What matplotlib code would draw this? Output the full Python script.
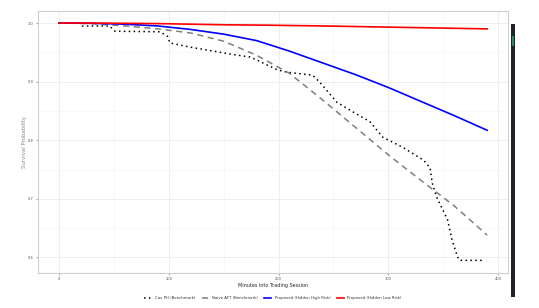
import matplotlib
matplotlib.use("Agg")
import matplotlib.pyplot as plt
from matplotlib.patches import Rectangle

# Cox PH (Benchmark) step-like Kaplan-style curve
cox_t = [0, 19, 21, 46, 51, 92, 99, 101, 119, 156, 174, 180, 190, 199, 208, 231,
         238, 253, 268, 283, 295, 313, 332, 338, 340, 344, 354, 358, 363, 365, 388]
cox_s = [1.0, 1.0, 0.995, 0.995, 0.986, 0.985, 0.977, 0.966, 0.959, 0.947, 0.942,
         0.937, 0.928, 0.920, 0.916, 0.911, 0.898, 0.865, 0.848, 0.832, 0.805,
         0.788, 0.766, 0.753, 0.727, 0.703, 0.664, 0.630, 0.601, 0.595, 0.595]

minutes = [0, 30, 60, 90, 120, 150, 180, 210, 240, 270, 300, 330, 360, 390]
aft_s = [1.0, 0.999, 0.995, 0.990, 0.983, 0.969, 0.945, 0.914, 0.869, 0.822,
         0.775, 0.731, 0.688, 0.638]
high_s = [1.0, 0.9995, 0.998, 0.995, 0.989, 0.981, 0.970, 0.952, 0.932, 0.912,
          0.890, 0.866, 0.842, 0.817]
low_s = [1.0, 0.9999, 0.9995, 0.999, 0.998, 0.997, 0.9965, 0.9958, 0.995,
         0.994, 0.993, 0.992, 0.991, 0.990]

labels = ["Cox PH (Benchmark)", "Naive AFT (Benchmark)",
          "Proposed (Hidden High Risk)", "Proposed (Hidden Low Risk)"]
x_ticks = [0, 100, 200, 300, 400]
y_ticks = [0.6, 0.7, 0.8, 0.9, 1.0]

fig = plt.figure(figsize=(5.39, 3.08), dpi=100)
ax = fig.add_axes([38/539, 35/308, 470/539, 262/308])

ax.plot(cox_t, cox_s, color="black", linestyle=(0, (1, 2.2)), linewidth=1.1, label=labels[0])
ax.plot(minutes, aft_s, color="#7f7f7f", linestyle=(0, (4, 3)), linewidth=1.1, label=labels[1])
ax.plot(minutes, high_s, color="#0000ff", linewidth=1.2, label=labels[2])
ax.plot(minutes, low_s, color="#ff0000", linewidth=1.2, label=labels[3])

ax.set_xlim(-19.1, 409)
ax.set_ylim(0.5734, 1.0205)
ax.set_xticks(x_ticks)
ax.set_xticklabels([str(v) for v in x_ticks])
ax.set_yticks(y_ticks)
ax.set_yticklabels([f"{v:.1f}" for v in y_ticks])
ax.set_xticks([50, 150, 250, 350], minor=True)
ax.set_yticks([0.65, 0.75, 0.85, 0.95], minor=True)
ax.grid(True, which="major", color="#ebebeb", linewidth=0.6)
ax.grid(True, which="minor", color="#f4f4f4", linewidth=0.4)
ax.set_axisbelow(True)
for s in ax.spines.values():
    s.set_color("#cfcfcf")
    s.set_linewidth(0.8)
ax.tick_params(which="major", labelsize=2.6, colors="#555555", length=1.5, width=0.4, pad=1.5)
ax.tick_params(which="minor", length=0)
ax.set_xlabel("Minutes into Trading Session", fontsize=3.5, color="#222222", labelpad=1.5)
ax.set_ylabel("Survival Probability", fontsize=3.9, color="#888888", labelpad=0.5)

leg = fig.legend(loc="center", bbox_to_anchor=(273/539, 10/308), ncol=4, frameon=False,
                 fontsize=2.8, handlelength=1.8, columnspacing=1.6, handletextpad=0.9)
for t in leg.get_texts():
    t.set_color("#333333")

fig.patches.append(Rectangle((511/539, 11/308), 4/539, 273/308, transform=fig.transFigure,
                             facecolor="#1e232b", edgecolor="none"))
fig.patches.append(Rectangle((512/539, 262/308), 2/539, 10/308, transform=fig.transFigure,
                             facecolor="#2e8b57", edgecolor="none"))

fig.savefig("out.png", dpi=100, facecolor="white")
